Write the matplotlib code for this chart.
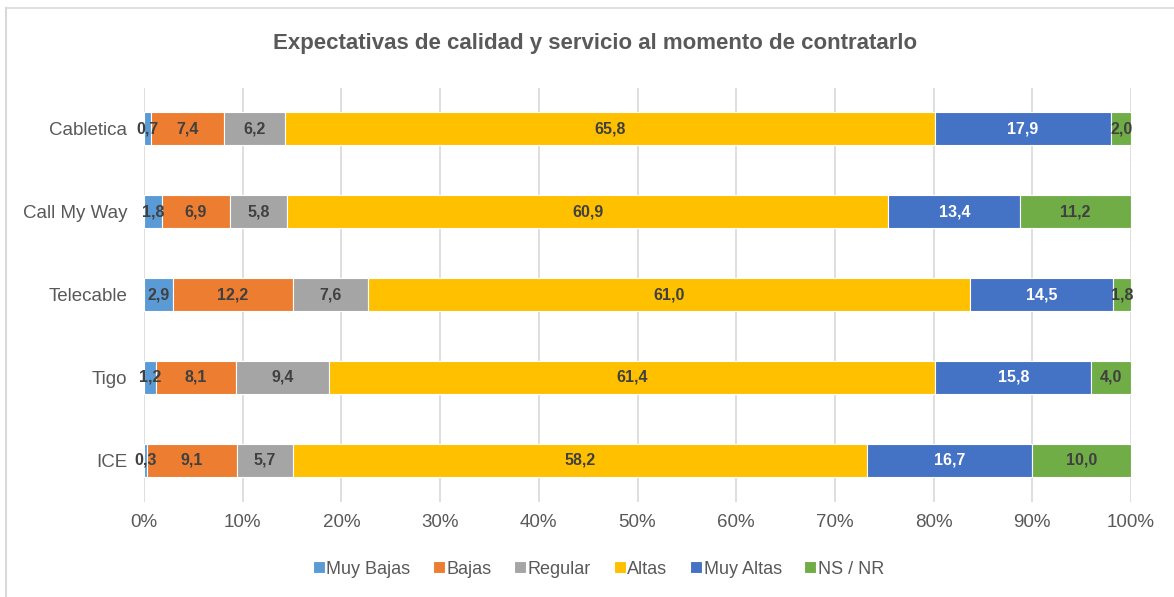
import matplotlib
matplotlib.use("Agg")
import matplotlib.pyplot as plt
from matplotlib.lines import Line2D
import numpy as np

plt.rcParams['font.family'] = ['Liberation Sans', 'DejaVu Sans']

categories = ["Cabletica", "Call My Way", "Telecable", "Tigo", "ICE"]
series_names = ["Muy Bajas", "Bajas", "Regular", "Altas", "Muy Altas", "NS / NR"]
muy_bajas = [0.7, 1.8, 2.9, 1.2, 0.3]
bajas = [7.4, 6.9, 12.2, 8.1, 9.1]
regular = [6.2, 5.8, 7.6, 9.4, 5.7]
altas = [65.8, 60.9, 61.0, 61.4, 58.2]
muy_altas = [17.9, 13.4, 14.5, 15.8, 16.7]
ns_nr = [2.0, 11.2, 1.8, 4.0, 10.0]
xticks = [0, 10, 20, 30, 40, 50, 60, 70, 80, 90, 100]

series = [muy_bajas, bajas, regular, altas, muy_altas, ns_nr]
colors = ["#5B9BD5", "#ED7D31", "#A5A5A5", "#FFC000", "#4472C4", "#70AD47"]
label_colors = ["#404040", "#404040", "#404040", "#404040", "#FFFFFF", "#404040"]

W, H = 1174, 597
fig = plt.figure(figsize=(W / 100, H / 100), dpi=100)
ax = fig.add_axes([144 / W, 1 - 501.5 / H, (1131 - 144) / W, (501.5 - 87.5) / H])

data = np.array(series, dtype=float)
totals = data.sum(axis=0)
pct = data / totals * 100
y = np.arange(len(categories))
left = np.zeros(len(categories))
for i, name in enumerate(series_names):
    bars = ax.barh(y, pct[i], left=left, height=0.4, color=colors[i],
                   edgecolor="white", linewidth=0.8, label=name, zorder=3)
    labels = [f"{v:.1f}".replace(".", ",") for v in data[i]]
    ax.bar_label(bars, labels=labels, label_type="center", color=label_colors[i],
                 fontsize=11.5, fontweight="bold", zorder=4)
    left += pct[i]

ax.set_xlim(0, 100)
ax.set_ylim(len(categories) - 0.5, -0.5)
ax.set_yticks(y)
ax.set_yticklabels(categories)
ax.set_xticks(xticks)
ax.set_xticklabels([f"{t}%" for t in xticks])
ax.tick_params(axis="both", length=0, labelsize=13.5, colors="#595959")
ax.tick_params(axis="x", pad=9)
ax.tick_params(axis="y", pad=12)
for s in ax.spines.values():
    s.set_visible(False)
ax.grid(axis="x", color="#D9D9D9", linewidth=1.2, zorder=0)
ax.set_axisbelow(True)

fig.text(595 / W, 1 - 43 / H, "Expectativas de calidad y servicio al momento de contratarlo",
         ha="center", va="center", fontsize=16, fontweight="bold", color="#595959")

leg = fig.legend(loc="center", bbox_to_anchor=(598.5 / W, 1 - 569 / H), ncol=6, frameon=False,
                 fontsize=13, handlelength=0.65, handleheight=0.65, handletextpad=0.1,
                 columnspacing=1.25)
for t in leg.get_texts():
    t.set_color("#595959")

fig.add_artist(Line2D([5.5 / W, 1], [1 - 8 / H, 1 - 8 / H], color="#D9D9D9", linewidth=1.2,
                      transform=fig.transFigure))
fig.add_artist(Line2D([5.5 / W, 5.5 / W], [0, 1 - 8 / H], color="#D9D9D9", linewidth=1.5,
                      transform=fig.transFigure))

fig.savefig("out.png", dpi=100)
